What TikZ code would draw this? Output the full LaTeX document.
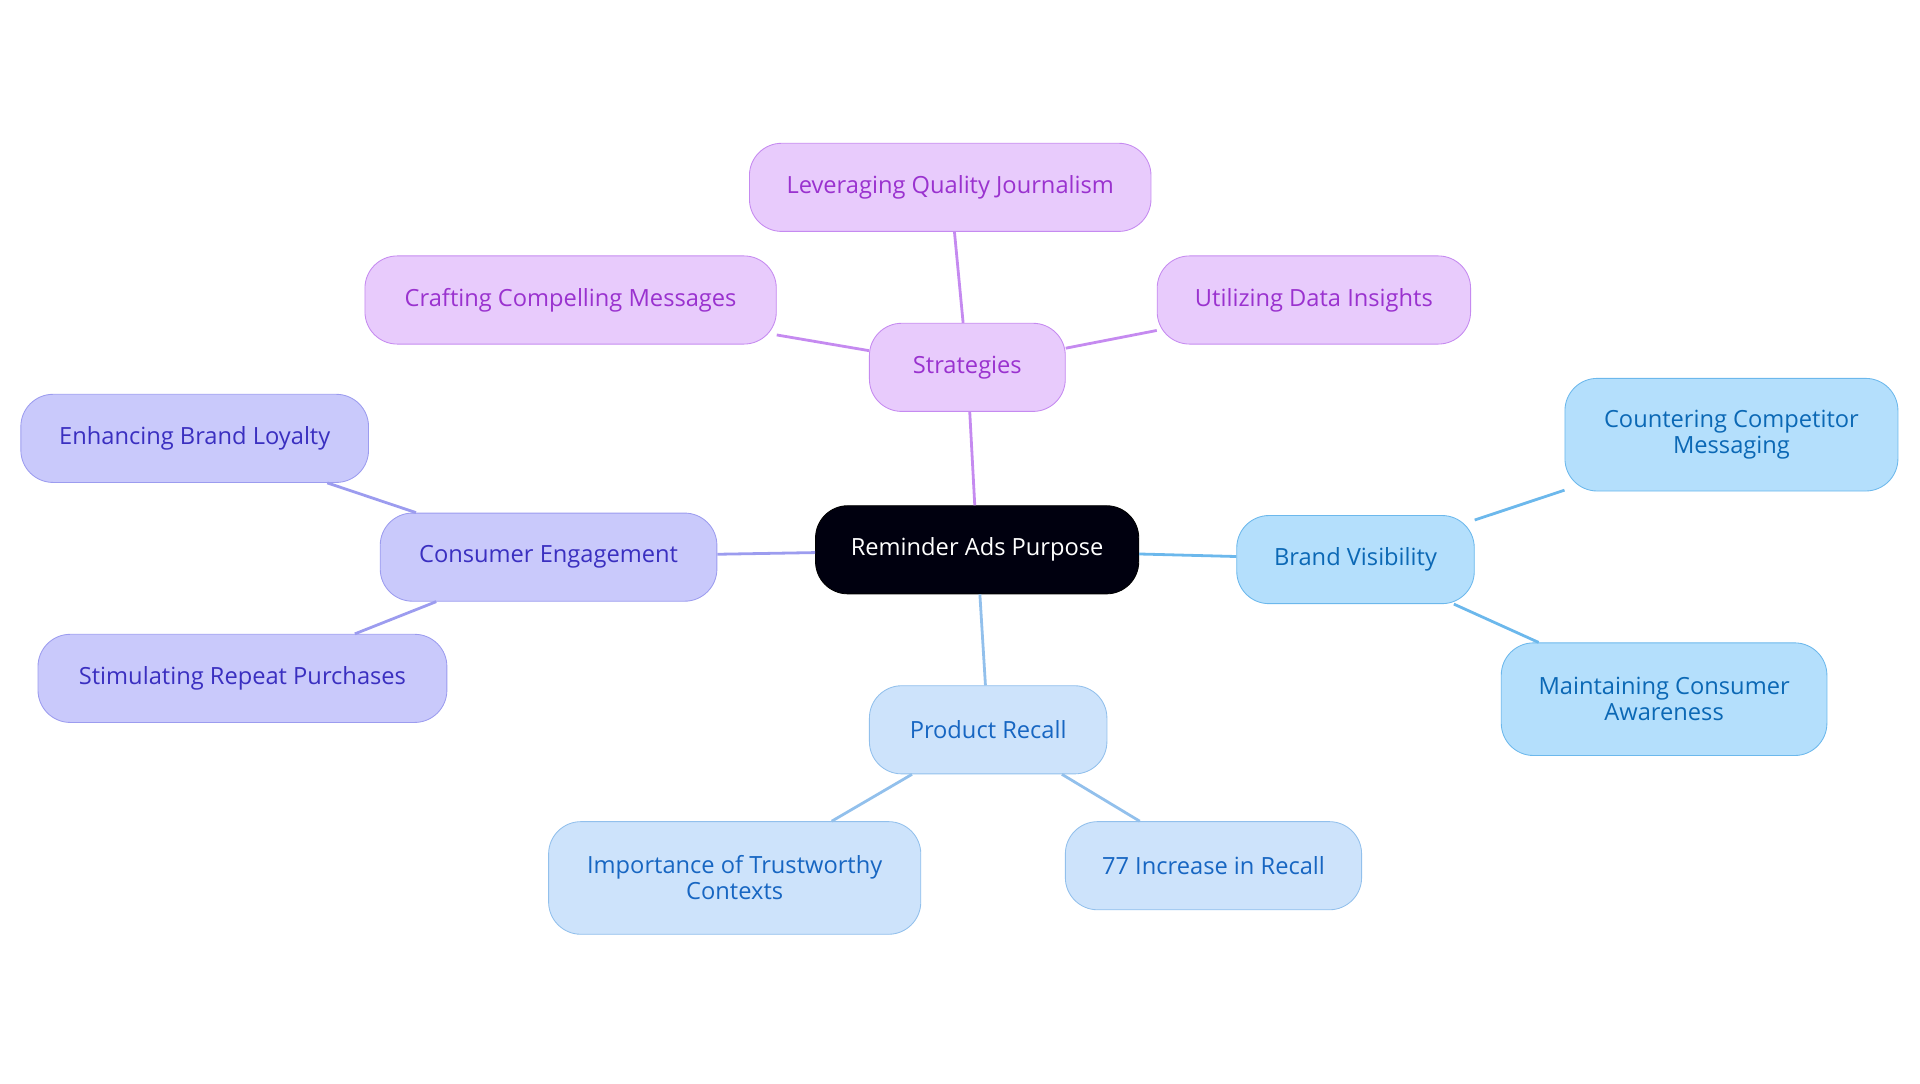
\documentclass[tikz,border=0pt]{standalone}
\usepackage{fontspec}
\setmainfont{Open Sans}
\usetikzlibrary{positioning}
\definecolor{purpFill}{HTML}{E8CBFC}
\definecolor{purpLine}{HTML}{C58AF0}
\definecolor{purpText}{HTML}{9A32CF}
\definecolor{violFill}{HTML}{C9C9FB}
\definecolor{violLine}{HTML}{9C9CEF}
\definecolor{violText}{HTML}{3A2FC0}
\definecolor{skyFill}{HTML}{B4DFFC}
\definecolor{skyLine}{HTML}{6CB8EC}
\definecolor{skyText}{HTML}{0B68B5}
\definecolor{paleFill}{HTML}{CDE3FB}
\definecolor{paleLine}{HTML}{92C0EC}
\definecolor{paleText}{HTML}{1766C2}
\tikzset{
  box/.style={draw, rounded corners=15pt, minimum height=1.44cm, align=center, font=\fontsize{11}{12}\selectfont, inner sep=2pt},
  strat/.style={box, fill=purpFill, draw=purpLine, text=purpText},
  cons/.style={box, fill=violFill, draw=violLine, text=violText},
  brand/.style={box, fill=skyFill, draw=skyLine, text=skyText},
  recall/.style={box, fill=paleFill, draw=paleLine, text=paleText},
  link/.style={line width=1.3pt}
}
\begin{document}
\begin{tikzpicture}[x=0.02cm,y=-0.02cm]
\useasboundingbox (0,0) rectangle (1568,885);
\node[box, fill=black!90!blue!60!black, draw=black, text=white, minimum width=5.28cm] (root) at (798,449) {Reminder Ads Purpose};
% strategies
\node[strat, minimum width=3.2cm] (strat) at (790,300) {Strategies};
\node[strat, minimum width=6.56cm] (lev) at (776,153) {Leveraging Quality Journalism};
\node[strat, minimum width=6.72cm] (craft) at (466,245) {Crafting Compelling Messages};
\node[strat, minimum width=5.12cm] (util) at (1073,245) {Utilizing Data Insights};
% consumer engagement
\node[cons, minimum width=5.5cm] (cons) at (448,455) {Consumer Engagement};
\node[cons, minimum width=5.68cm] (loyal) at (159,358) {Enhancing Brand Loyalty};
\node[cons, minimum width=6.68cm] (repeat) at (198,554) {Stimulating Repeat Purchases};
% brand visibility
\node[brand, minimum width=3.88cm] (brand) at (1107,457) {Brand Visibility};
\node[brand, minimum width=5.44cm, minimum height=1.84cm] (counter) at (1414,355) {Countering Competitor\\Messaging};
\node[brand, minimum width=5.32cm, minimum height=1.84cm] (maint) at (1359,571) {Maintaining Consumer\\Awareness};
% product recall
\node[recall, minimum width=3.88cm] (recall) at (807,596) {Product Recall};
\node[recall, minimum width=6.08cm, minimum height=1.84cm] (trust) at (600,717) {Importance of Trustworthy\\Contexts};
\node[recall, minimum width=4.84cm] (incr) at (991,707) {77 Increase in Recall};
\draw[link, purpLine] (root) -- (strat);
\draw[link, purpLine] (strat) -- (lev);
\draw[link, purpLine] (strat) -- (craft);
\draw[link, purpLine] (strat) -- (util);
\draw[link, violLine] (root) -- (cons);
\draw[link, violLine] (cons) -- (loyal);
\draw[link, violLine] (cons) -- (repeat);
\draw[link, skyLine] (root) -- (brand);
\draw[link, skyLine] (brand) -- (counter);
\draw[link, skyLine] (brand) -- (maint);
\draw[link, paleLine] (root) -- (recall);
\draw[link, paleLine] (recall) -- (trust);
\draw[link, paleLine] (recall) -- (incr);
\end{tikzpicture}
\end{document}
